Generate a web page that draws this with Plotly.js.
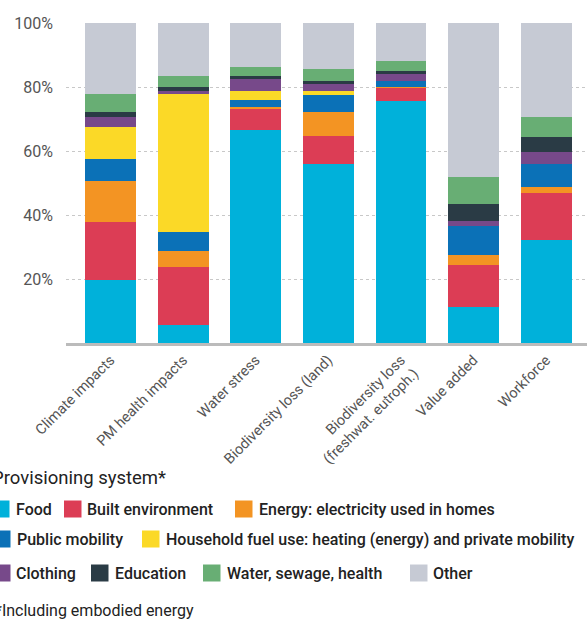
<!DOCTYPE html>
<html>
<head>
<meta charset="utf-8">
<script src="https://cdn.plot.ly/plotly-3.0.1.min.js"></script>
<style>
  html, body { margin: 0; padding: 0; background: #fff; }
  #chart { width: 587px; height: 619px; }
</style>
</head>
<body>
<div id="chart"></div>
<script>
// ---- Data (percent share of each indicator) ----
const categories = [
  "Climate impacts",
  "PM health impacts",
  "Water stress",
  "Biodiversity loss (land)",
  "Biodiversity loss<br>(freshwat. eutroph.)",
  "Value added",
  "Workforce"
];
const seriesNames = [
  "Food",
  "Built environment",
  "Energy: electricity used in homes",
  "Public mobility",
  "Household fuel use: heating (energy) and private mobility",
  "Clothing",
  "Education",
  "Water, sewage, health",
  "Other"
];
const food           = [19.7, 5.6, 66.5, 55.8, 75.6, 11.2, 32.2];
const builtEnv       = [18.2, 18.2, 6.5, 9.0, 4.1, 13.1, 14.7];
const energyElec     = [12.8, 5.0, 0.6, 7.5, 0.3, 3.1, 1.9];
const publicMobility = [6.9, 6.0, 2.2, 5.1, 1.8, 9.1, 7.0];
const householdFuel  = [10.0, 42.9, 2.8, 1.2, 0, 0, 0];
const clothing       = [2.9, 1.2, 3.8, 2.2, 2.2, 1.6, 4.0];
const education      = [1.6, 1.0, 0.9, 1.2, 0.9, 5.4, 4.7];
const waterSewage    = [5.6, 3.4, 2.8, 3.5, 3.1, 8.4, 6.0];
const other          = [22.3, 16.7, 13.9, 14.5, 12.0, 48.1, 29.5];
const yTickVals  = [20, 40, 60, 80, 100];
const yTickText  = ["20%", "40%", "60%", "80%", "100%"];
const legendTitle = "Provisioning system*";
const footnote = "*Including embodied energy";

// ---- Styles ----
const colors = ["#00B1DA", "#DC3D55", "#F39423", "#0B71B7", "#FBD927",
                "#77498A", "#2A3B45", "#68AE74", "#C6CAD4"];
const allSeries = [food, builtEnv, energyElec, publicMobility, householdFuel,
                   clothing, education, waterSewage, other];

const traces = allSeries.map((vals, i) => ({
  type: "bar",
  name: seriesNames[i],
  x: categories,
  y: vals,
  marker: { color: colors[i], line: { width: 0 } },
  hoverinfo: "skip"
}));

// plot area geometry (px)
const PL = 66, PW = 521, PT = 23, PB = 343, PH = PB - PT;
const px = v => (v - PL) / PW;
const py = v => (PB - v) / PH;

// custom legend layout: [seriesIndex, swatchLeft, textLeft, rowCenterY]
const legendPos = [
  [0, -8, 14, 509], [1, 64, 85, 509], [2, 235, 257, 509],
  [3, -7, 15, 539], [4, 142, 164, 539],
  [5, -7, 14, 573], [6, 91, 113, 573], [7, 203, 225, 573], [8, 410, 431, 573]
];
const shapes = [], annotations = [];
legendPos.forEach(([si, sx, tx, cy]) => {
  shapes.push({
    type: "rect", xref: "paper", yref: "paper", layer: "above",
    x0: px(sx), x1: px(sx + 17.5), y0: py(cy + 8.5), y1: py(cy - 8.5),
    fillcolor: colors[si], line: { width: 0 }
  });
  annotations.push({
    xref: "paper", yref: "paper", x: px(tx), y: py(cy),
    xanchor: "left", yanchor: "middle", showarrow: false,
    text: seriesNames[si],
    font: { family: "Roboto, Arial, sans-serif", size: 16, color: "#222", weight: 500 }
  });
});
annotations.push({
  xref: "paper", yref: "paper", x: px(-10), y: py(478),
  xanchor: "left", yanchor: "middle", showarrow: false,
  text: legendTitle,
  font: { family: "Roboto, Arial, sans-serif", size: 18.5, color: "#222" }
});
annotations.push({
  xref: "paper", yref: "paper", x: px(-7), y: py(610),
  xanchor: "left", yanchor: "middle", showarrow: false,
  text: footnote,
  font: { family: "Roboto, Arial, sans-serif", size: 16, color: "#222" }
});

const layout = {
  width: 587, height: 619,
  margin: { l: PL, r: 0, t: PT, b: 619 - PB, pad: 0 },
  paper_bgcolor: "#fff", plot_bgcolor: "#fff",
  barmode: "stack",
  bargap: 0.3,
  showlegend: false,
  hovermode: false,
  font: { family: "Roboto, Arial, sans-serif" },
  xaxis: {
    type: "category",
    range: [-0.613, 6.563],
    tickangle: -45,
    showgrid: false,
    showline: true, linecolor: "#BBBBBB", linewidth: 3,
    ticks: "", zeroline: false,
    tickfont: { family: "Roboto, Arial, sans-serif", size: 14.5, color: "#555" },
    fixedrange: true
  },
  yaxis: {
    range: [0, 100],
    tickvals: yTickVals, ticktext: yTickText,
    showgrid: true, gridcolor: "#C8C8C8", griddash: "dot", gridwidth: 1,
    zeroline: false, showline: false, ticks: "",
    ticklabelstandoff: 12,
    tickfont: { family: "Roboto, Arial, sans-serif", size: 16, color: "#555" },
    fixedrange: true
  },
  shapes: shapes,
  annotations: annotations
};

Plotly.newPlot("chart", traces, layout, { displayModeBar: false, staticPlot: true });
</script>
</body>
</html>
